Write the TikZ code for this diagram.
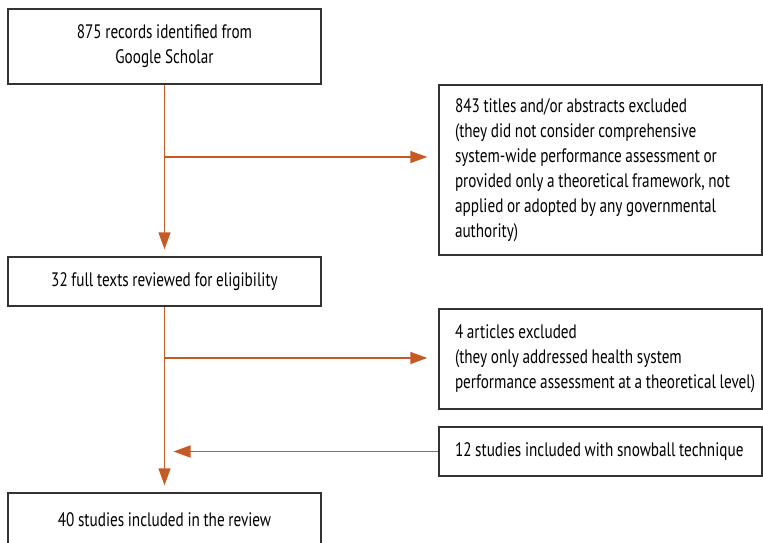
\documentclass[tikz,border=0pt]{standalone}
\usepackage{fontspec}
\setmainfont[FakeStretch=0.78, WordSpace={0.9,0.3,0.2}]{PT Sans}
\usetikzlibrary{arrows.meta}
\definecolor{arr}{HTML}{C65A24}
\definecolor{bord}{HTML}{333333}
\newcommand{\natspace}{\spaceskip=0pt\xspaceskip=0pt\hfuzz=20pt\hyphenpenalty=10000\exhyphenpenalty=10000\relax}
\tikzset{
  box/.style={draw=bord, line width=1.4pt, rectangle, inner sep=0pt, font=\fontsize{19.5}{25}\selectfont},
  cbox/.style={box, align=center, minimum width=313pt},
  lbox/.style={box, align=left, minimum width=323pt, text width=291pt, execute at begin node=\natspace},
  flow/.style={draw=arr, line width=1.4pt, -{Triangle[length=17pt,width=12pt]}},
}
\begin{document}
\begin{tikzpicture}[x=1pt,y=-1pt]
\useasboundingbox (0,0) rectangle (763,543);
\clip (0,0) rectangle (763,543);
\node[cbox, minimum height=75pt] (b1) at (164.5,46.5) {875 records identified from\\Google Scholar};
\node[lbox, minimum height=170pt] (ex1) at (600.5,170) {843 titles and/or abstracts excluded\\(they did not consider comprehensive\\system-wide performance assessment or\\provided only a theoretical framework, not\\applied or adopted by any governmental\\authority)};
\node[cbox, minimum height=49pt] (b2) at (164.5,281.5) {32 full texts reviewed for eligibility};
\node[lbox, minimum height=100pt] (ex2) at (600.5,359) {4 articles excluded\\(they only addressed health system\\\mbox{performance assessment at a theoretical level)}};
\node[lbox, minimum height=49pt] (sn) at (600.5,451.5) {12 studies included with snowball technique};
\node[cbox, minimum height=54pt] (b4) at (164.5,520) {40 studies included in the review};
\coordinate (j1) at (164.5,157);
\coordinate (j2) at (164.5,358);
\draw[flow, shorten >=7pt] (b1.south) -- (b2.north);
\draw[flow, shorten >=11pt] (j1) -- (j1 -| ex1.west);
\draw[flow, shorten >=7pt] (b2.south) -- (b4.north);
\draw[flow, shorten >=11pt] (j2) -- (j2 -| ex2.west);
\draw[flow, shorten >=9pt] (sn.west) -- (sn.west -| b2.south);
\end{tikzpicture}
\end{document}
